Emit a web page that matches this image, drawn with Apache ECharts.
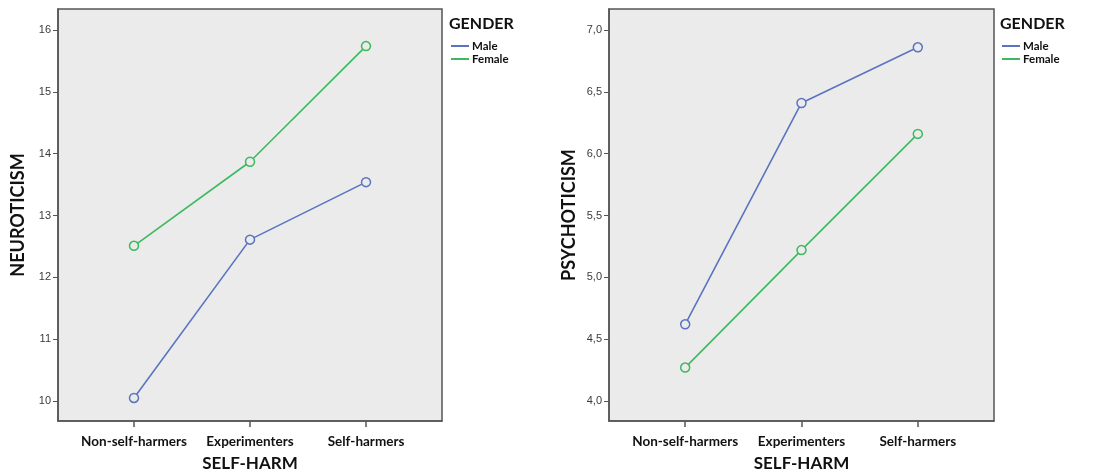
<!DOCTYPE html>
<html>
<head>
<meta charset="utf-8">
<script src="https://cdn.jsdelivr.net/npm/echarts@6/dist/echarts.min.js"></script>
<style>
html,body{margin:0;padding:0;background:#fff;}
#chart{width:1093px;height:473px;}
</style>
</head>
<body>
<div id="chart"></div>
<script>
const categories = ['Non-self-harmers', 'Experimenters', 'Self-harmers'];
const neuroMale = [10.05, 12.61, 13.54];
const neuroFemale = [12.51, 13.87, 15.74];
const psychoMale = [4.62, 6.41, 6.86];
const psychoFemale = [4.27, 5.22, 6.16];
const neuroTicks = [10, 11, 12, 13, 14, 15, 16];
const psychoTicks = [4.0, 4.5, 5.0, 5.5, 6.0, 6.5, 7.0];

const MALE = '#5a74c0';
const FEMALE = '#3dba5e';
const BG = '#ebebeb';
const FONT = 'Lato, "Open Sans", sans-serif';

function pairs(arr){ return arr.map((v,i)=>[i,v]); }

function xAxis(gi){
  return {
    type:'value', gridIndex:gi, min:-0.655, max:2.655,
    name:'SELF-HARM', nameLocation:'middle', nameGap:34,
    nameTextStyle:{fontFamily:FONT, fontWeight:'bold', fontSize:17, color:'#111'},
    axisLine:{show:true, onZero:false, lineStyle:{color:'#555', width:1.5}},
    axisTick:{show:true, length:6, customValues:[0,1,2], lineStyle:{color:'#555', width:1.5}},
    axisLabel:{customValues:[0,1,2], formatter:v=>categories[Math.round(v)], margin:14,
      fontFamily:FONT, fontWeight:'bold', fontSize:13.5, color:'#111'},
    splitLine:{show:false}
  };
}
function yAxis(gi, name, min, max, ticks, fmt){
  return {
    type:'value', gridIndex:gi, min:min, max:max,
    name:name, nameLocation:'middle', nameGap:31,
    nameTextStyle:{fontFamily:FONT, fontWeight:'bold', fontSize:18, color:'#111', padding:[0,0,0,0]},
    axisLine:{show:true, onZero:false, lineStyle:{color:'#555', width:1.5}},
    axisTick:{show:true, length:5, customValues:ticks, lineStyle:{color:'#555', width:1}},
    axisLabel:{customValues:ticks, formatter:fmt, margin:7,
      fontFamily:'"Liberation Sans", Arial, sans-serif', fontSize:11, color:'#3a3a3a'},
    splitLine:{show:false}
  };
}
function series(name, data, color, gi){
  return {
    name:name, type:'line', xAxisIndex:gi, yAxisIndex:gi, data:pairs(data),
    symbol:'circle', symbolSize:9, showSymbol:true,
    lineStyle:{color:color, width:1.6},
    itemStyle:{color:BG, borderColor:color, borderWidth:1.5},
    emphasis:{disabled:true}
  };
}
function legend(left){
  return {
    left:left, top:35, orient:'vertical', itemGap:1,
    icon:'rect', itemWidth:18, itemHeight:2,
    data:[{name:'Male', itemStyle:{color:MALE, borderWidth:0}}, {name:'Female', itemStyle:{color:FEMALE, borderWidth:0}}],
    textStyle:{fontFamily:FONT, fontWeight:'bold', fontSize:11.5, color:'#111', padding:[0,0,0,-2]},
    selectedMode:false
  };
}

const chart = echarts.init(document.getElementById('chart'), null, {renderer:'canvas'});
chart.setOption({
  animation:false,
  backgroundColor:'#fff',
  title:[
    {text:'GENDER', left:444, top:11, textStyle:{fontFamily:FONT, fontWeight:'bold', fontSize:16, color:'#111'}},
    {text:'GENDER', left:995, top:11, textStyle:{fontFamily:FONT, fontWeight:'bold', fontSize:16, color:'#111'}}
  ],
  legend:[legend(446), legend(997)],
  grid:[
    {left:58, top:9, width:384, height:412, show:true, backgroundColor:BG, borderColor:'#555', borderWidth:1.5, outerBoundsMode:'none', containLabel:false},
    {left:609, top:9, width:385, height:412, show:true, backgroundColor:BG, borderColor:'#555', borderWidth:1.5, outerBoundsMode:'none', containLabel:false}
  ],
  xAxis:[xAxis(0), xAxis(1)],
  yAxis:[
    yAxis(0, 'NEUROTICISM', 9.677, 16.340, neuroTicks, v=>String(Math.round(v))),
    yAxis(1, 'PSYCHOTICISM', 3.838, 7.170, psychoTicks, v=>v.toFixed(1).replace('.', ','))
  ],
  series:[
    series('Male', neuroMale, MALE, 0),
    series('Female', neuroFemale, FEMALE, 0),
    series('Male', psychoMale, MALE, 1),
    series('Female', psychoFemale, FEMALE, 1)
  ]
});
</script>
</body>
</html>
